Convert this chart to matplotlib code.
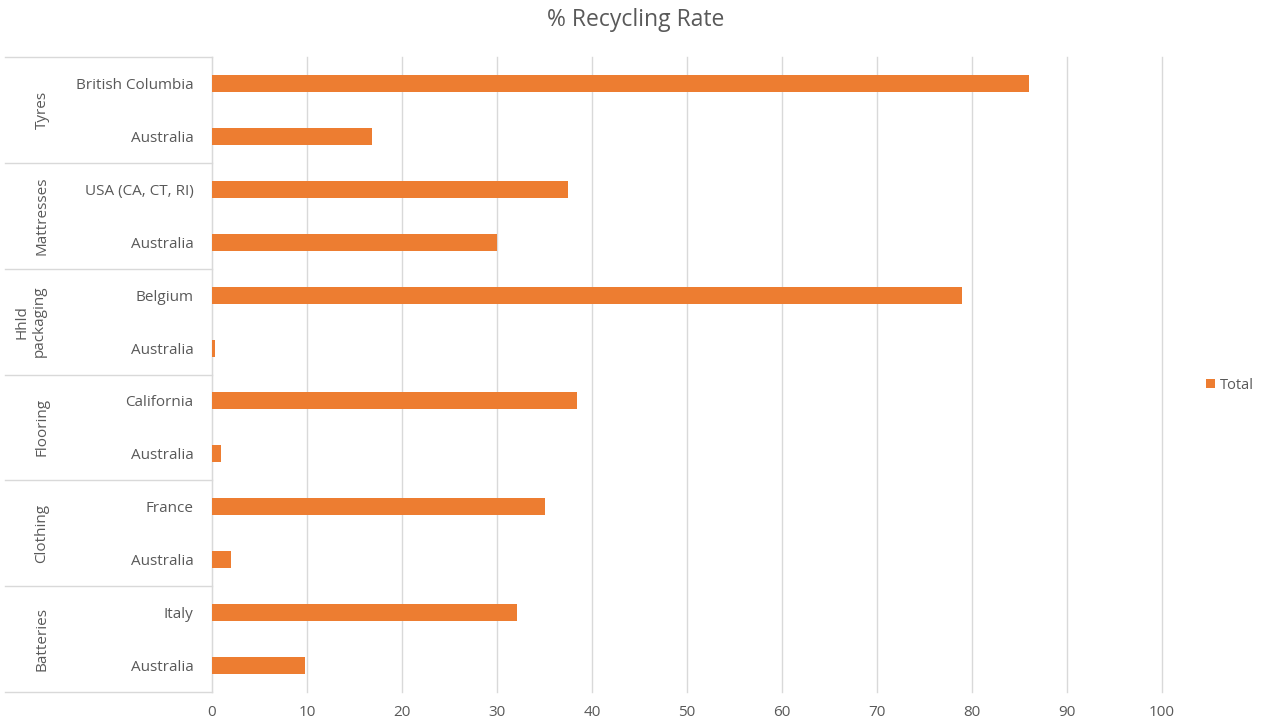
import numpy as np
import matplotlib
matplotlib.use('Agg')
from matplotlib import pyplot as plt
import matplotlib.transforms as mtransforms

# --- data
groups = ['Tyres', 'Mattresses', 'Hhld\npackaging', 'Flooring', 'Clothing', 'Batteries']
places = ['British Columbia', 'Australia',
          'USA (CA, CT, RI)', 'Australia',
          'Belgium', 'Australia',
          'California', 'Australia',
          'France', 'Australia',
          'Italy', 'Australia']
rates = [86, 16.8, 37.5, 30, 78.9, 0.3, 38.4, 0.9, 35, 2, 32.1, 9.8]

orange = '#ED7D31'
grey_txt = '#595959'
grid_col = '#D9D9D9'

plt.rcParams['font.family'] = ['Open Sans', 'DejaVu Sans']

fig = plt.figure(figsize=(12.61, 7.21), dpi=100)
ax = fig.add_axes([212/1261, 1-692/721, 950/1261, 635/721])

y = np.arange(len(places))
ax.barh(y, rates, height=0.32, color=orange, zorder=3, label='Total')
ax.set_ylim(len(places)-0.5, -0.5)
ax.set_xlim(0, 100)
ax.set_xticks(np.arange(0, 101, 10))
ax.tick_params(axis='x', length=0, colors=grey_txt, labelsize=11, pad=9)
ax.set_yticks(y)
ax.set_yticklabels(places)
ax.tick_params(axis='y', length=0, colors=grey_txt, labelsize=11, pad=13.5)
ax.grid(axis='x', color=grid_col, lw=1, zorder=0)
for gl in ax.get_xgridlines():
    gl.set_clip_on(False)
for s in ['top', 'right', 'bottom']:
    ax.spines[s].set_visible(False)
ax.spines['left'].set_color(grid_col)

# grouped category axis
trans = mtransforms.blended_transform_factory(ax.transAxes, ax.transData)
x0 = (5-212)/950
for k in range(len(groups)+1):
    yy = 2*k - 0.5
    ax.plot([x0, 0], [yy, yy], color=grid_col, lw=1, transform=trans, clip_on=False)
for k, g in enumerate(groups):
    xc = 31 if '\n' in g else 42
    ax.text((xc-212)/950, 2*k+0.5, g, rotation=90, ha='center', va='center',
            color=grey_txt, fontsize=11, transform=trans, linespacing=1.2)

fig.text(0.504, 1-20/721, '% Recycling Rate', color=grey_txt, fontsize=16.5,
         ha='center', va='center')

leg = ax.legend(loc='center left', bbox_to_anchor=(1.033, 0.483), frameon=False,
                fontsize=10.5, handlelength=0.6, handleheight=0.6, handletextpad=0.3)
for t in leg.get_texts():
    t.set_color(grey_txt)

fig.savefig('out.png', dpi=100)
